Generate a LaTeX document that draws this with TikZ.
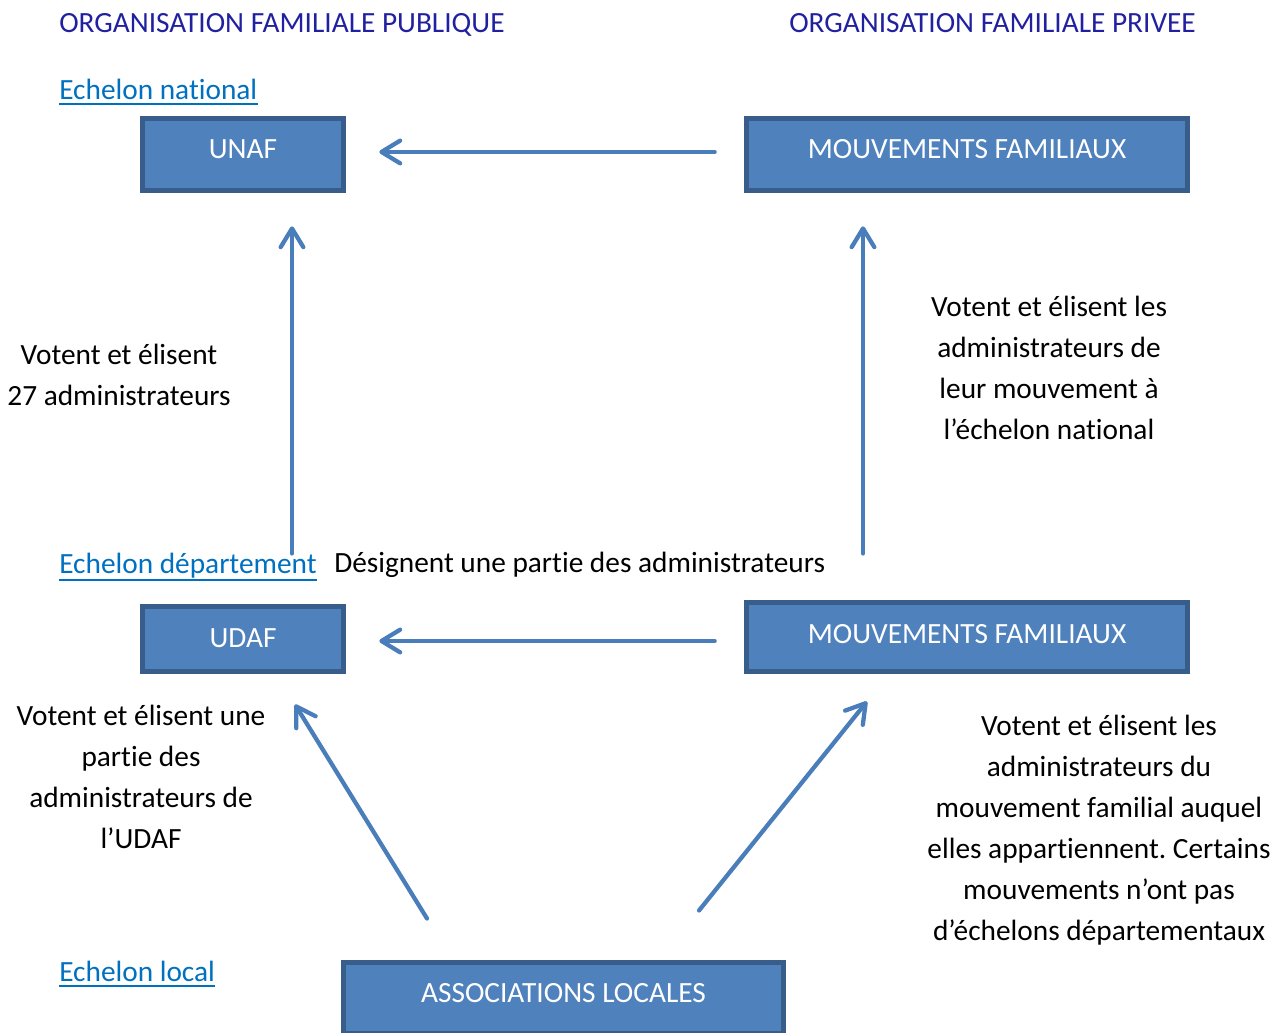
\documentclass[tikz,border=0pt]{standalone}
\usepackage{fontspec}
\setmainfont{Carlito}[Ligatures=NoCommon]
\usetikzlibrary{arrows.meta}
\definecolor{boxfill}{HTML}{4F81BD}
\definecolor{boxline}{HTML}{385D8A}
\definecolor{arrcol}{HTML}{4A7EBB}
\definecolor{headcol}{RGB}{32,32,160}
\definecolor{linkcol}{HTML}{0070C0}
\frenchspacing
\begin{document}
\begin{tikzpicture}[x=0.75pt,y=-0.75pt,
  every node/.style={font=\fontsize{22}{30.75}\selectfont, inner sep=0pt},
  box/.style={draw=boxline, fill=boxfill, line width=3.75pt, text=white, text height=14pt, inner sep=0pt},
  head/.style={text=headcol, anchor=base west},
  link/.style={text=linkcol, anchor=base west},
  ul/.style={draw=linkcol, line width=1.5pt},
  txt/.style={text=black, align=center, anchor=base},
  arr/.style={draw=arrcol, line width=3.2pt, line cap=round,
    -{Straight Barb[length=14pt,width=17pt,line cap=round,line join=round]}}
]
\useasboundingbox (0,0) rectangle (1285,1032);

% headers
\node[head] (h1) at (59,32) {ORGANISATION FAMILIALE PUBLIQUE};
\node[head] (h2) at (789,32) {ORGANISATION FAMILIALE PRIVEE};

% echelon labels
\node[link] (en) at (59,99) {Echelon national};
\draw[ul] ([yshift=-3.75pt]en.base west) -- ([yshift=-3.75pt]en.base east);
\node[link] (ed) at (59,573.5) {Echelon département};
\draw[ul] ([yshift=-4.5pt]ed.base west) -- ([yshift=-4.5pt]ed.base east);
\node[link] (el) at (59,981) {Echelon local};
\draw[ul] ([yshift=-4pt]el.base west) -- ([yshift=-4pt]el.base east);

% boxes
\node[box, minimum width=150.75pt, minimum height=54pt, text depth=7.5pt] (unaf) at (243,154.5) {UNAF};
\node[box, minimum width=330.75pt, minimum height=54pt, text depth=7.5pt] (mf1) at (967,154.5) {MOUVEMENTS FAMILIAUX};
\node[box, minimum width=150.75pt, minimum height=48.75pt, text depth=0.75pt] (udaf) at (243,639) {UDAF};
\node[box, minimum width=330.75pt, minimum height=51.75pt, text depth=4.5pt] (mf2) at (967,637) {MOUVEMENTS FAMILIAUX};
\node[box, minimum width=330pt, minimum height=53.25pt, text depth=7.5pt] (assoc) at (563.5,998) {ASSOCIATIONS LOCALES};

% texts (anchor=base is the baseline of the last line)
\node[txt, anchor=base west, align=left] (des) at (334,572) {Désignent une partie des administrateurs};
\node[txt] (t1) at (119,405) {Votent et élisent\\27 administrateurs};
\node[txt] (t2) at (1049,439) {Votent et élisent les\\administrateurs de\\leur mouvement à\\l’échelon national};
\node[txt] (t3) at (141,848) {Votent et élisent une\\partie des\\administrateurs de\\l’UDAF};
\node[txt] (t4) at (1099,940) {Votent et élisent les\\administrateurs du\\mouvement familial auquel\\elles appartiennent. Certains\\mouvements n’ont pas\\d’échelons départementaux};

% arrows
\draw[arr, shorten <=22pt, shorten >=25pt] ([yshift=1.9pt]mf1.west) -- ([yshift=1.9pt]unaf.east);
\draw[arr, shorten <=22pt, shorten >=25pt] ([yshift=-3pt]mf2.west) -- ([yshift=-1.5pt]udaf.east);
\draw[arr, shorten <=37.9pt, shorten >=25pt] ([xshift=36.75pt]udaf.north) -- ([xshift=36.75pt]unaf.south);
\draw[arr, shorten <=34.9pt, shorten >=25pt] ([xshift=-78pt]mf2.north) -- ([xshift=-78pt]mf1.south);
\draw[arr] ([shift={(-136.5,-41.5)}]assoc.north) -- ([shift={(52,30.5)}]udaf.south);
\draw[arr] ([shift={(135.5,-49.5)}]assoc.north) -- ([shift={(-100,27.5)}]mf2.south);
\end{tikzpicture}
\end{document}
